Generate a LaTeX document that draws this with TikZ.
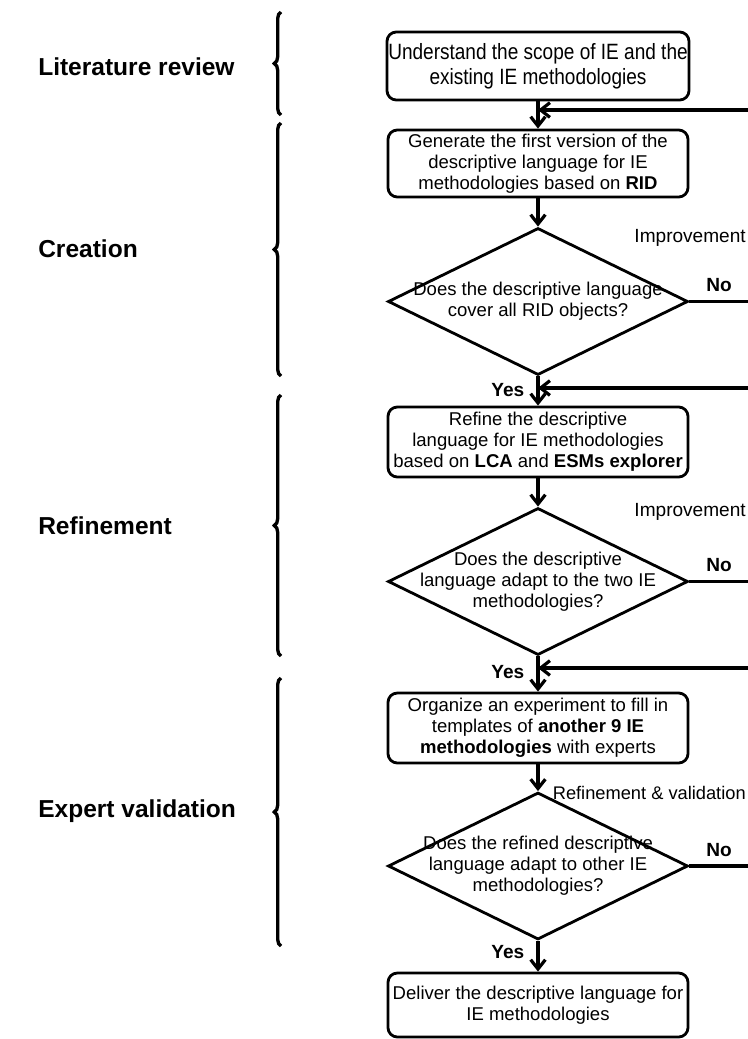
\documentclass[tikz,border=0pt]{standalone}
\usepackage{fontspec}
\setmainfont{Liberation Sans}
\newfontfamily\narrowfont[FakeStretch=0.86]{Liberation Sans}
\usetikzlibrary{shapes.geometric,arrows.meta,decorations.pathreplacing}
\newcommand\mybody{\fontsize{13.9pt}{15.8pt}\selectfont}
\newcommand\mylab{\fontsize{14.3pt}{16pt}\selectfont}
\begin{document}
\begin{tikzpicture}[x=0.75pt,y=-0.75pt,
  box/.style={draw,line width=2.1pt,rounded corners=7pt,minimum width=225pt,align=center,inner sep=0pt,font=\mybody},
  dia/.style={draw,diamond,line width=2.1pt,minimum width=225pt,minimum height=110.25pt,inner sep=0pt},
  dtext/.style={align=center,font=\mybody,inner sep=0pt},
  flow/.style={line width=2.6pt,-{Straight Barb[length=7pt,width=11pt,line width=2.4pt]}},
  lab/.style={font=\mylab,inner sep=0pt},
  yn/.style={font=\mylab\bfseries,inner sep=0pt},
  phase/.style={anchor=west,font=\bfseries\fontsize{18.4pt}{22pt}\selectfont,inner sep=0pt},
  brc/.style={line width=2.5pt,decorate,decoration={brace,amplitude=5pt}}
]
\useasboundingbox (0,0) rectangle (748,1039);

% left phase labels
\node[phase] (p1) at (38,67) {Literature review};
\node[phase] (p2) at (38,249) {Creation};
\node[phase] (p3) at (38,526) {Refinement};
\node[phase] (p4) at (38,811) {Expert validation};

% braces
\draw[brc] (281,115) -- (281,12);
\draw[brc] (281,376) -- (281,123);
\draw[brc] (281,656) -- (281,395);
\draw[brc] (281,946) -- (281,678);

% flow nodes
\node[box,minimum width=226.5pt,minimum height=51pt,font=\narrowfont\fontsize{16.6pt}{18.6pt}\selectfont] (b1) at (538,66) {Understand the scope of IE and the\\existing IE methodologies};
\node[box,minimum height=50.25pt] (b2) at (538,163.5) {Generate the first version of the\\descriptive language for IE\\methodologies based on \textbf{RID}};
\node[dia] (d1) at (538,301.5) {};
\node[dtext] (t1) at (d1) {Does the descriptive language\\cover all RID objects?};
\node[box,minimum height=52.5pt] (b3) at (538,442) {Refine the descriptive\\language for IE methodologies\\based on \textbf{LCA} and \textbf{ESMs explorer}};
\node[dia] (d2) at (538,581.5) {};
\node[dtext] (t2) at (d2) {Does the descriptive\\language adapt to the two IE\\methodologies?};
\node[box,minimum height=52.5pt] (b4) at (538,728) {Organize an experiment to fill in\\templates of \textbf{another 9 IE}\\\textbf{methodologies} with experts};
\node[dia] (d3) at (538,866) {};
\node[dtext] (t3) at (d3) {Does the refined descriptive\\language adapt to other IE\\methodologies?};
\node[box,minimum height=48pt] (b5) at (538,1005) {Deliver the descriptive language for\\IE methodologies};

% join points on the main line
\coordinate (j1) at (538,110);
\coordinate (j2) at (538,388);
\coordinate (j3) at (538,668);

% main flow
\draw[flow] (b1) -- (b2);
\draw[flow] (b2) -- (d1);
\draw[flow] (d1.south) -- node[yn,left=9pt,pos=0.45] (y1) {Yes} (b3.north);
\draw[flow] (b3) -- (d2);
\draw[flow] (d2.south) -- node[yn,left=9pt,pos=0.45] (y2) {Yes} (b4.north);
\draw[flow] (b4) -- (d3);
\draw[flow] (d3.south) -- node[yn,left=9pt,pos=0.35] (y3) {Yes} (b5.north);

% feedback loops
\draw[flow] (d1.east) -- ++(90,0) node[yn,above=6pt,pos=0.33] (n1) {No} |- (j1);
\draw[flow] (d2.east) -- ++(90,0) node[yn,above=6pt,pos=0.33] (n2) {No} |- (j2);
\draw[flow] (d3.east) -- ++(90,0) node[yn,above=6pt,pos=0.33] (n3) {No} |- (j3);

\node[lab,anchor=east] (i1) at (746,238) {Improvement};
\node[lab,anchor=east] (i2) at (746,512) {Improvement};
\node[lab,anchor=east,font=\fontsize{13.7pt}{16pt}\selectfont] (i3) at (746,793) {Refinement \& validation};
\end{tikzpicture}
\end{document}
